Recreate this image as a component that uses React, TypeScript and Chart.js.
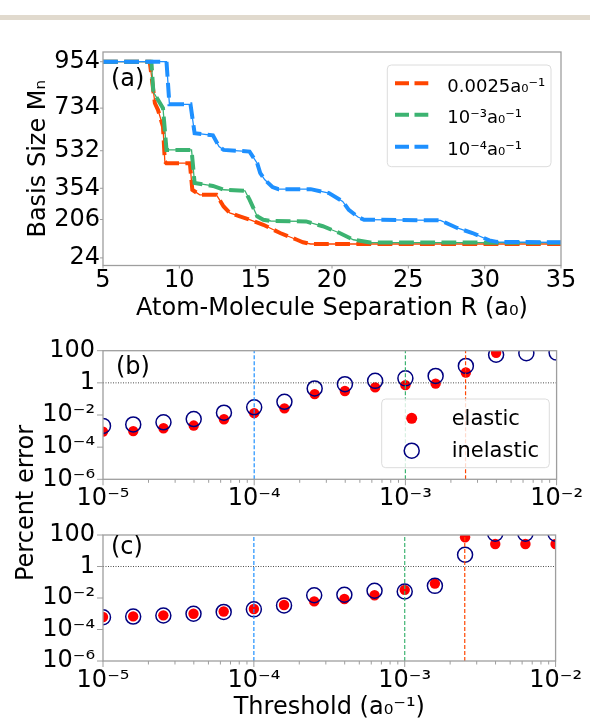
import { useEffect, useRef } from 'react';
import { Chart, registerables } from 'chart.js';

Chart.register(...registerables);

const FONT = '"DejaVu Sans", Verdana, sans-serif';
const SPINE = '#9e9e9e';

// ---------- Panel (a): basis size vs atom-molecule separation ----------
const R_0025 = [5, 8.06, 8.4, 8.6, 8.93, 9.05, 9.15, 10.69, 10.85, 11.34, 12.43, 12.9, 13.3, 13.96, 14.6, 15.5, 16.6, 17.7, 18.1, 18.6, 35];
const M_0025 = [954, 954, 757, 726, 646, 481, 473, 473, 347, 323, 323, 268, 237, 221, 205, 181, 142, 110, 98, 90, 90];
const R_1E3 = [5, 8.17, 8.3, 8.93, 9.16, 10.8, 11.0, 12.2, 12.9, 14.3, 14.6, 15.1, 15.5, 16, 18.3, 19.4, 20.5, 21.4, 22.5, 35];
const M_1E3 = [954, 954, 810, 734, 536, 536, 379, 365, 347, 342, 300, 221, 205, 199, 197, 174, 142, 110, 97, 96];
const R_1E4 = [5, 9.16, 9.35, 10.73, 11.0, 12.2, 12.6, 12.9, 14.6, 15.1, 15.3, 15.6, 16.1, 16.5, 18.6, 19.8, 20.7, 21.1, 21.7, 22.1, 27.1, 28.2, 29.2, 30.3, 30.8, 35];
const M_1E4 = [954, 954, 752, 752, 615, 605, 552, 536, 528, 473, 426, 394, 360, 350, 350, 331, 292, 252, 218, 205, 202, 166, 142, 107, 100, 98];
const LABELS_A = ['0.0025a\u2080\u207B\u00B9', '10\u207B\u00B3a\u2080\u207B\u00B9', '10\u207B\u2074a\u2080\u207B\u00B9'];
const COLORS_A = ['#ff4500', '#3cb371', '#1e90ff'];
const Y_TICKS_A = [24, 206, 354, 532, 734, 954];

// ---------- Panels (b), (c): percent error vs threshold ----------
const THRESHOLDS = [1e-5, 1.585e-5, 2.512e-5, 3.981e-5, 6.31e-5, 1e-4, 1.585e-4, 2.512e-4, 3.981e-4, 6.31e-4, 1e-3, 1.585e-3, 2.512e-3, 3.981e-3, 6.31e-3, 1e-2];
const ELASTIC_B = [9.3e-4, 1.0e-3, 1.5e-3, 2.2e-3, 5.4e-3, 1.3e-2, 2.6e-2, 0.2, 0.31, 0.52, 0.72, 0.9, 4.4, 75, 500, 500];
const INELASTIC_B = [2.1e-3, 2.6e-3, 3.5e-3, 5.6e-3, 1.4e-2, 3.0e-2, 6.6e-2, 0.45, 0.83, 1.33, 1.9, 2.7, 11.3, 56, 69, 76];
const ELASTIC_C = [6.2e-4, 6.8e-4, 7.9e-4, 1.0e-3, 1.4e-3, 2.0e-3, 3.6e-3, 6.1e-3, 8.7e-3, 1.5e-2, 3.3e-2, 8.2e-2, 71, 27, 27, 27];
const INELASTIC_C = [6.0e-4, 6.6e-4, 7.7e-4, 1.0e-3, 1.3e-3, 1.9e-3, 3.4e-3, 1.5e-2, 1.6e-2, 2.9e-2, 2.6e-2, 5.9e-2, 5.6, 120, 120, 120];
const MARKED_THRESHOLDS = [1e-4, 1e-3, 0.0025];
const MARKED_COLORS = ['#1e90ff', '#3cb371', '#ff4500'];
const Y_TICKS_LOG = [1e-6, 1e-4, 1e-2, 1, 100];
const X_DECADES = [-5, -4, -3, -2];
const LEGEND_B = ['elastic', 'inelastic'];

const SUP: Record<string, string> = { '-': '\u207B', '0': '\u2070', '1': '\u00B9', '2': '\u00B2', '3': '\u00B3', '4': '\u2074', '5': '\u2075', '6': '\u2076', '7': '\u2077', '8': '\u2078', '9': '\u2079' };
function fmtLog(v: number): string {
  const e = Math.round(Math.log10(v));
  if (e === 2) return '100';
  if (e === 0) return '1';
  return '10' + String(e).split('').map((c) => SUP[c]).join('');
}
function isDecade(v: number) {
  const l = Math.log10(v);
  return Math.abs(l - Math.round(l)) < 1e-6;
}
function logXTicks() {
  const out: { value: number }[] = [];
  for (let i = 0; i < X_DECADES.length; i++) {
    const base = Math.pow(10, X_DECADES[i]);
    out.push({ value: base });
    if (i < X_DECADES.length - 1) for (let m = 2; m <= 9; m++) out.push({ value: m * base });
  }
  return out;
}
const zip = (xs: number[], ys: number[]) => xs.map((x, i) => ({ x, y: ys[i] }));

type LegendRow = { kind: 'dash' | 'dot' | 'ring'; color: string; text: string; y: number; base: number };
type LegendCfg = { box: [number, number, number, number]; font: number; sx0: number; sx1: number; tx: number; rows: LegendRow[] };
type DecoCfg = { tickMajor: number; tickMinor: number; label: string; lx: number; ly: number; legend?: LegendCfg };

function roundRect(ctx: CanvasRenderingContext2D, x: number, y: number, w: number, h: number, r: number) {
  ctx.beginPath();
  ctx.moveTo(x + r, y);
  ctx.lineTo(x + w - r, y);
  ctx.arcTo(x + w, y, x + w, y + r, r);
  ctx.lineTo(x + w, y + h - r);
  ctx.arcTo(x + w, y + h, x + w - r, y + h, r);
  ctx.lineTo(x + r, y + h);
  ctx.arcTo(x, y + h, x, y + h - r, r);
  ctx.lineTo(x, y + r);
  ctx.arcTo(x, y, x + r, y, r);
  ctx.closePath();
}

function makeDeco(cfg: DecoCfg) {
  return {
    id: 'deco',
    afterDraw(chart: any) {
      const ctx: CanvasRenderingContext2D = chart.ctx;
      const a = chart.chartArea;
      const xs = chart.scales.x;
      const ys = chart.scales.y;
      ctx.save();
      ctx.strokeStyle = SPINE;
      ctx.lineWidth = 1.3;
      ctx.setLineDash([]);
      ctx.strokeRect(a.left, a.top, a.right - a.left, a.bottom - a.top);
      ctx.beginPath();
      ctx.lineWidth = 1;
      for (const t of xs.ticks) {
        const px = xs.getPixelForValue(t.value);
        const len = t.label ? cfg.tickMajor : cfg.tickMinor;
        ctx.moveTo(px, a.bottom);
        ctx.lineTo(px, a.bottom + len);
      }
      for (const t of ys.ticks) {
        const py = ys.getPixelForValue(t.value);
        ctx.moveTo(a.left, py);
        ctx.lineTo(a.left - cfg.tickMajor, py);
      }
      ctx.stroke();
      ctx.fillStyle = '#000';
      ctx.font = `24px ${FONT}`;
      ctx.textAlign = 'left';
      ctx.textBaseline = 'alphabetic';
      ctx.fillText(cfg.label, cfg.lx, cfg.ly);
      const L = cfg.legend;
      if (L) {
        const [bx, by, bw, bh] = L.box;
        roundRect(ctx, bx, by, bw, bh, 4);
        ctx.fillStyle = 'rgba(255,255,255,0.8)';
        ctx.fill();
        ctx.strokeStyle = '#dcdcdc';
        ctx.lineWidth = 1;
        ctx.stroke();
        for (const r of L.rows) {
          if (r.kind === 'dash') {
            ctx.beginPath();
            ctx.strokeStyle = r.color;
            ctx.lineWidth = 4;
            ctx.setLineDash([14, 5.5]);
            ctx.moveTo(L.sx0, r.y);
            ctx.lineTo(L.sx1, r.y);
            ctx.stroke();
            ctx.setLineDash([]);
          } else if (r.kind === 'dot') {
            ctx.beginPath();
            ctx.fillStyle = r.color;
            ctx.arc((L.sx0 + L.sx1) / 2, r.y, 5.5, 0, Math.PI * 2);
            ctx.fill();
          } else {
            ctx.beginPath();
            ctx.strokeStyle = r.color;
            ctx.lineWidth = 1.5;
            ctx.arc((L.sx0 + L.sx1) / 2, r.y, 7.5, 0, Math.PI * 2);
            ctx.stroke();
          }
          ctx.fillStyle = '#000';
          ctx.font = `${L.font}px ${FONT}`;
          ctx.textAlign = 'left';
          ctx.textBaseline = 'alphabetic';
          ctx.fillText(r.text, L.tx, r.base);
        }
      }
      ctx.restore();
    },
  };
}

const tickFont = { family: FONT, size: 24, lineHeight: 1 };
const titleFont = { family: FONT, size: 24, lineHeight: 1.2 };

function chartA(canvas: HTMLCanvasElement) {
  const series = [
    { r: R_1E4, m: M_1E4, c: COLORS_A[2] },
    { r: R_1E3, m: M_1E3, c: COLORS_A[1] },
    { r: R_0025, m: M_0025, c: COLORS_A[0] },
  ];
  const datasets: any[] = [];
  series.forEach((s, i) => {
    datasets.push({
      data: zip(s.r, s.m), showLine: true, borderColor: s.c, borderWidth: 4, borderDash: [14.8, 6.4],
      pointRadius: 0, tension: 0, order: i * 2,
    });
    datasets.push({
      data: zip(s.r, s.m), showLine: true, borderColor: s.c, borderWidth: 1.3,
      pointRadius: 0, tension: 0, order: i * 2 + 1,
    });
  });
  return new Chart(canvas, {
    type: 'scatter',
    data: { datasets },
    options: {
      animation: false, responsive: false, events: [],
      layout: { padding: { top: 52, right: 29, bottom: 0, left: 0 } },
      plugins: { legend: { display: false }, tooltip: { enabled: false } },
      scales: {
        x: {
          type: 'linear', min: 5, max: 35,
          ticks: { stepSize: 5, font: tickFont, color: '#000', padding: 3, maxRotation: 0, autoSkip: false },
          grid: { display: false, drawTicks: false }, border: { display: false },
          title: { display: true, text: 'Atom-Molecule Separation R (a\u2080)', font: titleFont, color: '#000', padding: { top: 0, bottom: 7 } },
          afterFit: (s: any) => { s.height = 64.5; },
        },
        y: {
          type: 'linear', min: -12, max: 1000,
          afterBuildTicks: (s: any) => { s.ticks = Y_TICKS_A.map((v) => ({ value: v })); },
          ticks: { font: tickFont, color: '#000', padding: 3, autoSkip: false },
          grid: { display: false, drawTicks: false }, border: { display: false },
          title: { display: true, text: 'Basis Size M\u2099', font: titleFont, color: '#000', padding: { top: 24, bottom: 0 } },
          afterFit: (s: any) => { s.width = 103; },
        },
      },
    } as any,
    plugins: [makeDeco({
      tickMajor: 3, tickMinor: 2, label: '(a)', lx: 111, ly: 86,
      legend: {
        box: [387.3, 65, 163.7, 101.7], font: 18, sx0: 395, sx1: 428.3, tx: 447.3,
        rows: [
          { kind: 'dash', color: COLORS_A[0], text: LABELS_A[0], y: 83.3, base: 91.7 },
          { kind: 'dash', color: COLORS_A[1], text: LABELS_A[1], y: 114.8, base: 123.3 },
          { kind: 'dash', color: COLORS_A[2], text: LABELS_A[2], y: 146.8, base: 154.5 },
        ],
      },
    })],
  });
}

type LogCfg = {
  elastic: number[]; inelastic: number[]; padTop: number; xHeight: number; tickPad: number;
  xTitle?: string; titlePadBottom?: number; deco: DecoCfg;
};

function chartLog(canvas: HTMLCanvasElement, c: LogCfg) {
  const datasets: any[] = [];
  MARKED_THRESHOLDS.forEach((t, i) => {
    datasets.push({
      data: [{ x: t, y: 1e-6 }, { x: t, y: 100 }], showLine: true, borderColor: MARKED_COLORS[i],
      borderWidth: 1.2, borderDash: [4, 2], pointRadius: 0, order: 0, clip: 0,
    });
  });
  datasets.push({
    data: [{ x: 1e-5, y: 1 }, { x: 1e-2, y: 1 }], showLine: true, borderColor: '#222',
    borderWidth: 0.8, borderDash: [1, 1.5], pointRadius: 0, order: 0, clip: 0,
  });
  datasets.push({
    data: zip(THRESHOLDS, c.inelastic), showLine: false, pointRadius: 7.5, pointBorderWidth: 1.5,
    pointBackgroundColor: 'rgba(0,0,0,0)', pointBorderColor: '#000080', order: 1, clip: 0,
  });
  datasets.push({
    data: zip(THRESHOLDS, c.elastic), showLine: false, pointRadius: 5.2, pointBorderWidth: 0,
    pointBackgroundColor: '#ff0000', pointBorderColor: '#ff0000', order: 2, clip: 0,
  });
  return new Chart(canvas, {
    type: 'scatter',
    data: { datasets },
    options: {
      animation: false, responsive: false, events: [],
      layout: { padding: { top: c.padTop, right: 29, bottom: 0, left: 0 } },
      plugins: { legend: { display: false }, tooltip: { enabled: false } },
      scales: {
        x: {
          type: 'logarithmic', min: 1e-5, max: 1e-2,
          afterBuildTicks: (s: any) => { s.ticks = logXTicks(); },
          ticks: {
            font: tickFont, color: '#000', padding: c.tickPad, maxRotation: 0, autoSkip: false,
            callback: (v: any) => (isDecade(Number(v)) ? fmtLog(Number(v)) : ''),
          },
          grid: { display: false, drawTicks: false }, border: { display: false },
          title: { display: !!c.xTitle, text: c.xTitle || '', font: titleFont, color: '#000', padding: { top: 0, bottom: c.titlePadBottom || 0 } },
          afterFit: (s: any) => { s.height = c.xHeight; },
        },
        y: {
          type: 'logarithmic', min: 1e-6, max: 100,
          afterBuildTicks: (s: any) => { s.ticks = Y_TICKS_LOG.map((v) => ({ value: v })); },
          ticks: { font: tickFont, color: '#000', padding: 8, autoSkip: false, callback: (v: any) => fmtLog(Number(v)) },
          grid: { display: false, drawTicks: false }, border: { display: false },
          afterFit: (s: any) => { s.width = 103; },
        },
      },
    } as any,
    plugins: [makeDeco(c.deco)],
  });
}

export default function App() {
  const refA = useRef<HTMLCanvasElement>(null);
  const refB = useRef<HTMLCanvasElement>(null);
  const refC = useRef<HTMLCanvasElement>(null);
  useEffect(() => {
    document.body.style.margin = '0';
    const charts = [
      chartA(refA.current!),
      chartLog(refB.current!, {
        elastic: ELASTIC_B, inelastic: INELASTIC_B, padTop: 20.7, xHeight: 35.7, tickPad: 7,
        deco: {
          tickMajor: 6, tickMinor: 3.5, label: '(b)', lx: 116, ly: 44,
          legend: {
            box: [381.7, 69, 167.6, 68.7], font: 21, sx0: 401.7, sx1: 421.7, tx: 451.7,
            rows: [
              { kind: 'dot', color: '#ff0000', text: LEGEND_B[0], y: 88.3, base: 95 },
              { kind: 'ring', color: '#000080', text: LEGEND_B[1], y: 120.7, base: 126.7 },
            ],
          },
        },
      }),
      chartLog(refC.current!, {
        elastic: ELASTIC_C, inelastic: INELASTIC_C, padTop: 18.3, xHeight: 62, tickPad: 8,
        xTitle: 'Threshold (a\u2080\u207B\u00B9)', titlePadBottom: 1,
        deco: { tickMajor: 6, tickMinor: 3.5, label: '(c)', lx: 111, ly: 39.3 },
      }),
    ];
    return () => charts.forEach((ch) => ch.destroy());
  }, []);
  return (
    <div style={{ position: 'absolute', left: 0, top: 0, width: 590, height: 723, background: '#fff', fontFamily: FONT, overflow: 'hidden' }}>
      <div style={{ position: 'absolute', left: 0, top: 15, width: 590, height: 5, background: '#e1dace' }} />
      <canvas ref={refA} width={590} height={330} style={{ position: 'absolute', left: 0, top: 0 }} />
      <canvas ref={refB} width={590} height={185} style={{ position: 'absolute', left: 0, top: 330 }} />
      <canvas ref={refC} width={590} height={208} style={{ position: 'absolute', left: 0, top: 515 }} />
      <div style={{ position: 'absolute', left: -75, top: 488, width: 200, height: 30, lineHeight: '30px', fontSize: 24, textAlign: 'center', transform: 'rotate(-90deg)', whiteSpace: 'nowrap', color: '#000' }}>
        Percent error
      </div>
    </div>
  );
}
